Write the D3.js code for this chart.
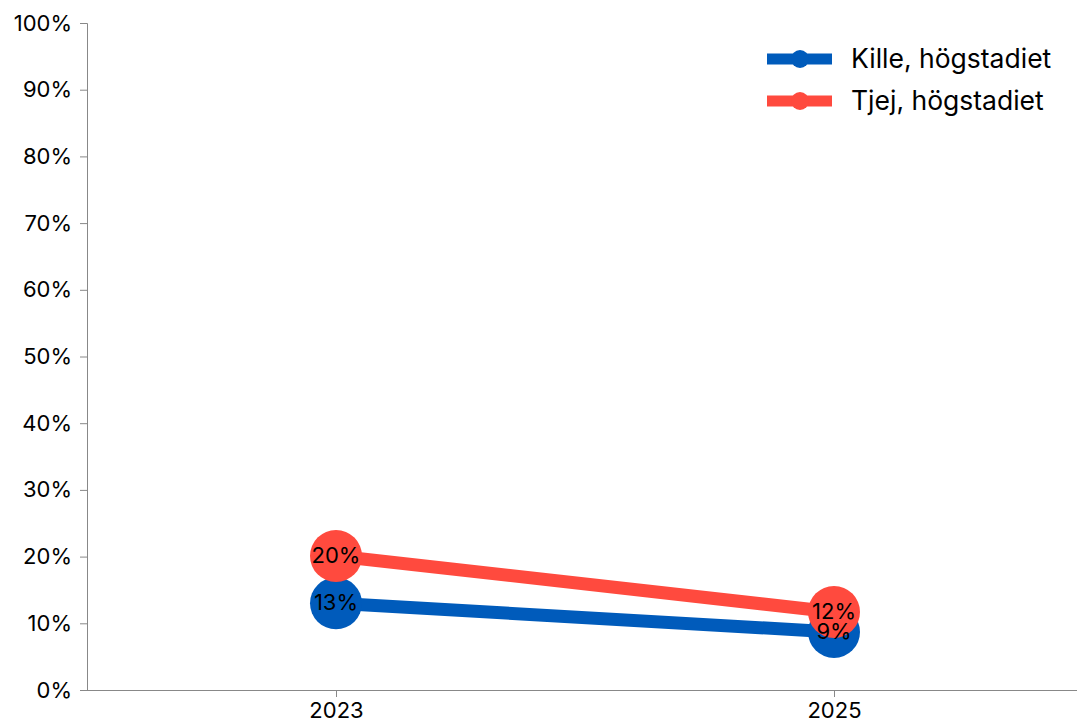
<!DOCTYPE html>
<html>
<head>
<meta charset="utf-8">
<script src="https://cdn.jsdelivr.net/npm/d3@7"></script>
<style>
  body { margin: 0; background: #fff; }
  text { font-family: Inter, "Open Sans", sans-serif; }
</style>
</head>
<body>
<div id="chart"></div>
<script>
// Data
const years = ["2023", "2025"];
const seriesNames = ["Kille, högstadiet", "Tjej, högstadiet"];
const killeValues = [13, 8.7];
const tjejValues = [20.1, 11.7];
const yTicks = [0, 10, 20, 30, 40, 50, 60, 70, 80, 90, 100];

const colors = ["#005bbb", "#ff4a3e"];

const width = 1077;
const height = 725;
const margin = {top: 23, right: 0, bottom: 35, left: 87};

const svg = d3.select("#chart").append("svg")
    .attr("width", width)
    .attr("height", height);

const x = d3.scalePoint()
    .domain(years)
    .range([margin.left, 1083])
    .padding(0.5);

const y = d3.scaleLinear()
    .domain([0, 100])
    .range([height - margin.bottom, margin.top]);

// Y axis
const yAxis = svg.append("g")
    .attr("transform", `translate(${margin.left},0)`)
    .call(d3.axisLeft(y).tickValues(yTicks).tickFormat(d => d + "%").tickSize(7).tickPadding(8));
yAxis.selectAll("path, line").attr("stroke", "#888");
yAxis.selectAll("text").attr("font-size", 22).attr("fill", "#000")
    .style("font-family", "Inter, 'Open Sans', sans-serif");

// X axis
const xAxis = svg.append("g")
    .attr("transform", `translate(0,${y(0)})`)
    .call(d3.axisBottom(x).tickSize(7).tickSizeOuter(0).tickPadding(5));
xAxis.select(".domain").attr("d", `M${margin.left},0.5H${width}`);
xAxis.selectAll("path, line").attr("stroke", "#888");
xAxis.selectAll("text").attr("font-size", 22).attr("fill", "#000")
    .style("font-family", "Inter, 'Open Sans', sans-serif");

const series = [
  {name: seriesNames[0], values: killeValues, color: colors[0]},
  {name: seriesNames[1], values: tjejValues, color: colors[1]}
];

const line = d3.line()
    .x((d, i) => x(years[i]))
    .y(d => y(d));

// Lines, drawn with dots per series
series.forEach(s => {
  const g = svg.append("g");
  g.append("path")
      .datum(s.values)
      .attr("fill", "none")
      .attr("stroke", s.color)
      .attr("stroke-width", 13)
      .attr("d", line);
  g.selectAll("circle")
      .data(s.values)
      .join("circle")
      .attr("cx", (d, i) => x(years[i]))
      .attr("cy", d => y(d))
      .attr("r", 26)
      .attr("fill", s.color);
});

// Value labels on top
series.forEach(s => {
  svg.append("g").selectAll("text")
      .data(s.values)
      .join("text")
      .attr("x", (d, i) => x(years[i]))
      .attr("y", d => y(d))
      .attr("dy", "0.3em")
      .attr("text-anchor", "middle")
      .attr("font-size", 22)
      .attr("fill", "#000")
      .text(d => Math.round(d) + "%");
});

// Legend
const legend = svg.append("g")
    .attr("transform", "translate(767,59)");
const item = legend.selectAll("g")
    .data(series)
    .join("g")
    .attr("transform", (d, i) => `translate(0,${i * 42})`);
item.append("line")
    .attr("x1", 0).attr("x2", 65)
    .attr("stroke", d => d.color)
    .attr("stroke-width", 11);
item.append("circle")
    .attr("cx", 33).attr("r", 9)
    .attr("fill", d => d.color);
item.append("text")
    .attr("x", 84)
    .attr("dy", "0.35em")
    .attr("font-size", 26.5)
    .attr("fill", "#000")
    .text(d => d.name);
</script>
</body>
</html>
